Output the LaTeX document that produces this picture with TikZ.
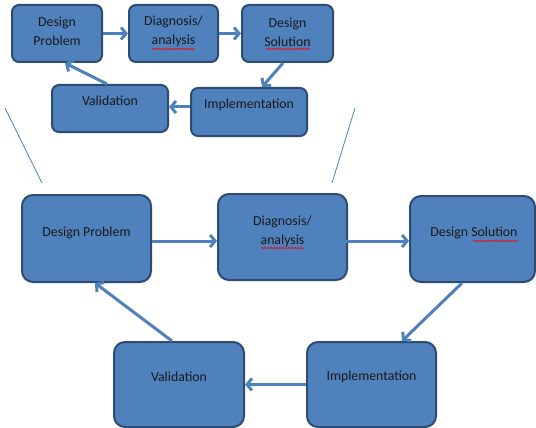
\documentclass[tikz,border=0pt]{standalone}
\usepackage{fontspec}
\setmainfont{Carlito}
\usetikzlibrary{arrows.meta,calc,decorations.pathmorphing}
\definecolor{boxfill}{HTML}{4F81BD}
\definecolor{boxline}{HTML}{2E4B72}
\definecolor{arrcol}{HTML}{4F81BD}
\definecolor{thincol}{HTML}{4F81BD}
\definecolor{txtcol}{HTML}{1A1A1A}
\begin{document}
\begin{tikzpicture}[x=1pt,y=-1pt,
  box/.style={draw=boxline,fill=boxfill,line width=2pt,rounded corners=#1,inner sep=0pt},
  box/.default=9pt,
  txt/.style={text=txtcol,align=center,inner sep=0pt,font=\fontsize{13.8}{19}\selectfont},
  arr/.style={draw=arrcol,line width=3pt,-{Straight Barb[length=5pt,width=12pt]}},
  thin/.style={draw=thincol,line width=0.8pt},
  squig/.style={draw=red,line width=0.6pt,decorate,decoration={snake,amplitude=0.7pt,segment length=3pt}}]
\useasboundingbox (0,0) rectangle (536,428);
\fill[white] (0,0) rectangle (536,428);
% small diagram
\node[box=7pt,minimum width=90pt,minimum height=57pt] (sdp) at (57,33.5) {};
\node[box=7pt,minimum width=89pt,minimum height=57pt] (sdiag) at (173.5,33.5) {};
\node[box=7pt,minimum width=91pt,minimum height=57pt] (sds) at (287.5,33.5) {};
\node[box=7pt,minimum width=116pt,minimum height=47pt] (sval) at (110,108.5) {};
\node[box=7pt,minimum width=116pt,minimum height=48pt] (simp) at (249,112) {};
\node[txt] (sdpT) at (57,31.5) {Design\\Problem};
\node[txt] (sdiagT) at (173.5,31.5) {Diagnosis/\\analysis};
\node[txt] (sdsT) at (287.5,32) {Design\\Solution};
\node[txt] (svalT) at (110,101) {Validation};
\node[txt] (simpT) at (249,105) {Implementation};
\draw[arr] (sdp.east) -- (sdiag.west);
\draw[arr] (sdiag.east) -- (sds.west);
\draw[arr] ([xshift=-4.5pt]sds.south) -- ([xshift=13pt]simp.north);
\draw[arr] ([yshift=5pt]simp.west) -- ([yshift=1.5pt]sval.east);
\draw[arr] ([xshift=-3pt]sval.north) -- ([xshift=8pt]sdp.south);
\draw[squig] (152,49) -- (195,49);
\draw[squig] (266,49) -- (310,49);
% connecting thin lines
\coordinate (la) at (5,108);
\coordinate (lb) at (42,183);
\coordinate (ra) at (355,108);
\coordinate (rb) at (332,183);
\draw[thin] (la) -- (lb);
\draw[thin] (ra) -- (rb);
% large diagram
\node[box=11pt,minimum width=129pt,minimum height=87pt] (ldp) at (86.5,238.5) {};
\node[box=11pt,minimum width=129pt,minimum height=86pt] (ldiag) at (282.5,237) {};
\node[box=11pt,minimum width=125pt,minimum height=86pt] (lds) at (472.5,239) {};
\node[box=11pt,minimum width=130pt,minimum height=85pt] (lval) at (179,384.5) {};
\node[box=11pt,minimum width=129pt,minimum height=85pt] (limp) at (371.5,384.5) {};
\node[txt] (ldpT) at (86.5,233) {Design Problem};
\node[txt] (ldiagT) at (282.5,231) {Diagnosis/\\analysis};
\node[txt] (ldsT) at (474,233) {Design Solution};
\node[txt] (lvalT) at (179,377) {Validation};
\node[txt] (limpT) at (371.5,377) {Implementation};
\draw[arr] ([yshift=-2.5pt]ldp.east) -- ([yshift=-4pt]ldiag.west);
\draw[arr] ([xshift=-7pt,yshift=-4pt]ldiag.east) -- ([yshift=-2pt]lds.west);
\draw[arr] ([xshift=-10.5pt]lds.south) -- ([xshift=30.5pt]limp.north);
\draw[arr] (limp.west) -- (lval.east);
\draw[arr] ([xshift=-7pt]lval.north) -- ([xshift=8.5pt]ldp.south);
\draw[squig] (261,248) -- (304,248);
\draw[squig] (473,241) -- (518,241);
\end{tikzpicture}
\end{document}
